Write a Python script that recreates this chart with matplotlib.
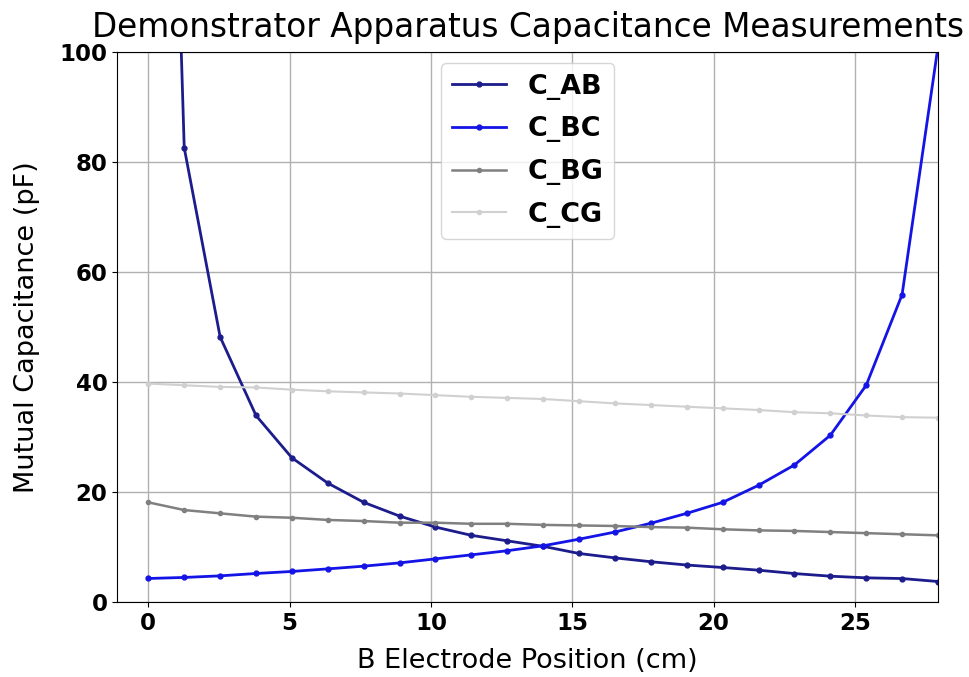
import numpy as np
import matplotlib
matplotlib.use("Agg")
import matplotlib.pyplot as plt

# electrode positions, half-inch steps (cm)
position = [0.0, 1.27, 2.54, 3.81, 5.08, 6.35, 7.62, 8.89, 10.16, 11.43, 12.70, 13.97,
            15.24, 16.51, 17.78, 19.05, 20.32, 21.59, 22.86, 24.13, 25.40, 26.67, 27.94]

c_ab = [295.0, 82.6, 48.2, 33.9, 26.2, 21.6, 18.1, 15.6, 13.6, 12.1, 11.1, 10.1,
        8.8, 8.0, 7.3, 6.7, 6.25, 5.76, 5.15, 4.67, 4.37, 4.24, 3.7]
c_bc = [4.25, 4.44, 4.73, 5.16, 5.53, 6.0, 6.49, 7.09, 7.82, 8.55, 9.3, 10.2,
        11.4, 12.7, 14.3, 16.1, 18.1, 21.2, 24.9, 30.3, 39.4, 55.9, 101.0]
c_bg = [18.1, 16.7, 16.1, 15.5, 15.3, 14.9, 14.7, 14.4, 14.4, 14.2, 14.2, 14.0,
        13.9, 13.8, 13.6, 13.5, 13.2, 13.0, 12.9, 12.7, 12.5, 12.3, 12.1]
c_cg = [39.7, 39.4, 39.1, 39.0, 38.6, 38.3, 38.1, 37.9, 37.6, 37.3, 37.1, 36.9,
        36.5, 36.1, 35.8, 35.5, 35.2, 34.9, 34.5, 34.3, 33.9, 33.6, 33.5]

fig = plt.figure(figsize=(9.69, 6.77), dpi=100)
ax = fig.add_axes([0.121, 0.111, 0.847, 0.812])

ax.plot(position, c_ab, marker=".", markersize=7, lw=2, color="#1c1c8c", label="C_AB")
ax.plot(position, c_bc, marker=".", markersize=7, lw=2, color="#1414e6", label="C_BC")
ax.plot(position, c_bg, marker=".", markersize=6, lw=1.8, color="#808080", label="C_BG")
ax.plot(position, c_cg, marker=".", markersize=6, lw=1.5, color="#d0d0d0", label="C_CG")

ax.set_xlim(-1.1, 27.94)
ax.set_ylim(0, 100)
ax.grid(True, color="#b0b0b0", lw=1)

ax.set_title("Demonstrator Apparatus Capacitance Measurements", fontsize=23.6, pad=11)
ax.set_xlabel("B Electrode Position (cm)", fontsize=19.5, labelpad=10)
ax.set_ylabel("Mutual Capacitance (pF)", fontsize=19.5, labelpad=14)
ax.tick_params(labelsize=16.5)
for lbl in ax.get_xticklabels() + ax.get_yticklabels():
    lbl.set_fontweight("bold")

ax.legend(loc="upper center", prop={"weight": "bold", "size": 19.4}, handlelength=2.0,
          borderaxespad=0.4, labelspacing=0.62)

fig.savefig("out.png", dpi=100)
